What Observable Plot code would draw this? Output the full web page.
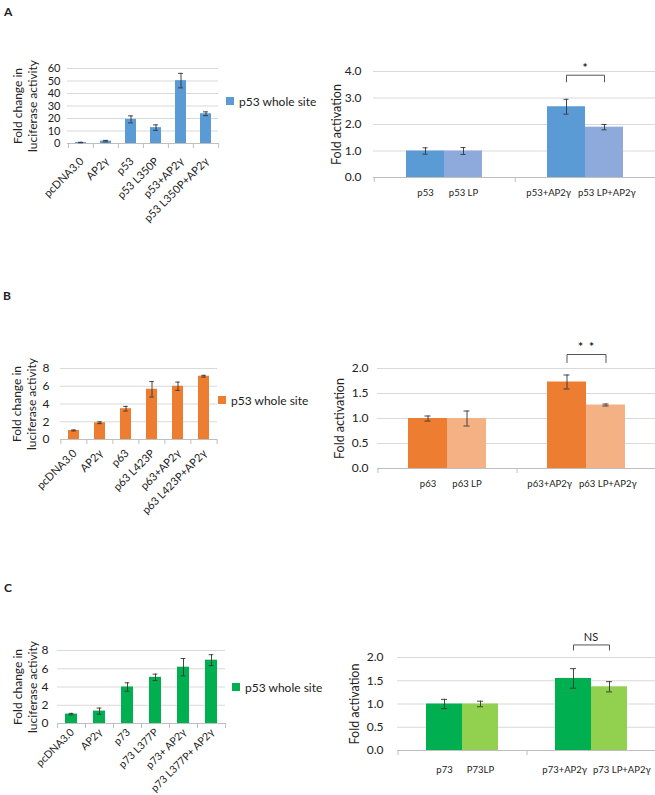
<!DOCTYPE html>
<html><head><meta charset="utf-8">
<script src="https://cdn.jsdelivr.net/npm/d3@7"></script>
<script src="https://cdn.jsdelivr.net/npm/@observablehq/plot@0.6"></script>
<style>
body{margin:0;background:#fff;font-family:Lato,"Open Sans",sans-serif;}
#fig{position:relative;width:655px;height:795px;overflow:hidden;background:#fff;color:#222;}
.panel{position:absolute;}
.letter{position:absolute;font-weight:bold;font-size:12px;line-height:12px;}
.legend{position:absolute;font-size:12px;height:16px;display:flex;align-items:center;white-space:nowrap;}
.legend .sw{display:inline-block;width:8px;height:8px;margin-right:5px;}
</style></head>
<body><div id="fig"></div>
<script>
// ---------- data ----------
const legendLabel = "p53 whole site";
const leftTitle = "Fold change in\nluciferase activity";
const rightTitle = "Fold activation";

// Panel A
const catsA = ["pcDNA3.0","AP2γ","p53","p53 L350P","p53+AP2γ","p53 L350P+AP2γ"];
const valsA = [0.8, 1.9, 19.3, 12.7, 50.3, 23.8];
const errsA = [0.2, 0.6, 2.8, 2.2, 5.8, 1.5];
const ticksA = [0,10,20,30,40,50,60];
const groupsA = ["p53","p53+AP2γ"];
const barLabelsA = ["p53","p53 LP","p53+AP2γ","p53 LP+AP2γ"];
const foldA = [1.0, 1.0, 2.67, 1.9];
const foldErrA = [0.12, 0.13, 0.28, 0.1];
const foldTicksA = [0,1,2,3,4];
const sigA = {label:"*", top:3.86, bottom:3.61, textY:4.12};

// Panel B
const catsB = ["pcDNA3.0","AP2γ","p63","p63 L423P","p63+AP2γ","p63 L423P+AP2γ"];
const valsB = [1.02, 1.89, 3.47, 5.66, 6.0, 7.13];
const errsB = [0.06, 0.1, 0.26, 0.87, 0.47, 0.1];
const ticksB = [0,2,4,6,8];
const groupsB = ["p63","p63+AP2γ"];
const barLabelsB = ["p63","p63 LP","p63+AP2γ","p63 LP+AP2γ"];
const foldB = [1.0, 1.0, 1.73, 1.27];
const foldErrB = [0.05, 0.15, 0.14, 0.02];
const foldTicksB = [0,0.5,1,1.5,2];
const sigB = {label:"*  *", top:2.28, bottom:2.12, textY:2.42};

// Panel C
const catsC = ["pcDNA3.0","AP2γ","p73","p73 L377P","p73+ AP2γ","p73 L377P+ AP2γ"];
const valsC = [1.03, 1.36, 4.0, 5.06, 6.17, 6.94];
const errsC = [0.08, 0.33, 0.46, 0.35, 0.95, 0.6];
const ticksC = [0,2,4,6,8];
const groupsC = ["p73","p73+AP2γ"];
const barLabelsC = ["p73","P73LP","p73+AP2γ","p73 LP+AP2γ"];
const foldC = [1.0, 1.0, 1.55, 1.37];
const foldErrC = [0.1, 0.06, 0.21, 0.11];
const foldTicksC = [0,0.5,1,1.5,2];
const sigC = {label:"NS", top:2.27, bottom:2.16, textY:2.43};

// ---------- helpers ----------
const fig = document.getElementById("fig");
function place(node, left, top){
  const d = document.createElement("div");
  d.className = "panel"; d.style.left = left+"px"; d.style.top = top+"px";
  d.appendChild(node); fig.appendChild(d);
}
function letter(t, left, top){
  const d = document.createElement("div"); d.className="letter";
  d.style.left=left+"px"; d.style.top=top+"px"; d.textContent=t; fig.appendChild(d);
}
function legend(color, left, cy){
  const d = document.createElement("div"); d.className="legend";
  d.style.left=left+"px"; d.style.top=(cy-8)+"px";
  d.innerHTML = `<span class="sw" style="background:${color}"></span><span></span>`;
  d.lastChild.textContent = legendLabel; fig.appendChild(d);
}
const baseStyle = (fs) => ({background:"none", overflow:"visible", fontFamily:"Lato, 'Open Sans', sans-serif", fontSize:fs+"px", color:"#222"});

function leftChart(o){
  const data = o.cats.map((c,i)=>({c, v:o.vals[i], e:o.errs[i]}));
  const W = o.width - o.mLeft - o.mRight;
  const step = W / o.cats.length;
  const pad = 0.56;
  const bw = step*(1-pad);
  const capInset = Math.max(0,(bw-5)/2);
  return Plot.plot({
    width:o.width, height:o.height,
    marginTop:o.mTop, marginBottom:o.mBottom, marginLeft:o.mLeft, marginRight:o.mRight,
    style: baseStyle(o.axisFont),
    x:{domain:o.cats, paddingInner:pad, paddingOuter:pad/2, axis:null},
    y:{domain:[0, o.ticks[o.ticks.length-1]], ticks:o.ticks, label:null, tickSize:0, tickPadding:o.tickPad},
    marks:[
      Plot.ruleY(o.ticks.slice(1), {stroke:"#d9d9d9"}),
      Plot.barY(data, {x:"c", y:"v", fill:o.color}),
      Plot.ruleY([0], {stroke:"#bfbfbf"}),
      Plot.ruleX(o.cats, {x:d=>d, dx:-step/2, y1:0, y2:0, insetBottom:-5, stroke:"#bfbfbf"}),
      Plot.ruleX([o.cats[o.cats.length-1]], {x:d=>d, dx:step/2, y1:0, y2:0, insetBottom:-5, stroke:"#bfbfbf"}),
      Plot.ruleX(data, {x:"c", y1:d=>d.v-d.e, y2:d=>d.v+d.e, stroke:"#333", strokeWidth:0.9}),
      Plot.tickY(data, {x:"c", y:d=>d.v-d.e, stroke:"#333", strokeWidth:0.9, insetLeft:capInset, insetRight:capInset}),
      Plot.tickY(data, {x:"c", y:d=>d.v+d.e, stroke:"#333", strokeWidth:0.9, insetLeft:capInset, insetRight:capInset}),
      Plot.text(o.cats, {x:d=>d, text:d=>d, frameAnchor:"bottom", dy:o.labelDy, dx:1, rotate:-45, textAnchor:"end", lineAnchor:"middle", fontSize:o.labelSize, fill:"#222"}),
      Plot.text([leftTitle], {text:d=>d, frameAnchor:"left", dx:o.titleX - o.mLeft, rotate:-90, textAnchor:"middle", lineAnchor:"middle", fontSize:12, lineHeight:1.22, fill:"#222"})
    ]
  });
}

function rightChart(o){
  const keys = ["a","b"];
  const data = [];
  o.groups.forEach((g,gi)=>keys.forEach((k,ki)=>{
    const i = gi*2+ki;
    data.push({g, k, label:o.labels[i], v:o.vals[i], e:o.errs[i]});
  }));
  const fw = (o.width - o.mLeft - o.mRight)/2;
  const po = (fw/o.barW - 2)/2;
  const capInset = (o.barW-6)/2;
  const g1 = o.groups[0], g2 = o.groups[1];
  const bracket = [
    {g:g2, k:"a", y:o.sig.bottom},{g:g2, k:"a", y:o.sig.top},
    {g:g2, k:"b", y:o.sig.top},{g:g2, k:"b", y:o.sig.bottom}
  ];
  const lab = {frameAnchor:"bottom", dy:o.labelDy, lineAnchor:"middle", fontSize:9.5, fill:"#222", text:"label", fx:"g"};
  return Plot.plot({
    width:o.width, height:o.height,
    marginTop:o.mTop, marginBottom:o.mBottom, marginLeft:o.mLeft, marginRight:o.mRight,
    style: baseStyle(12),
    fx:{domain:o.groups, paddingInner:0, paddingOuter:0, axis:null, label:null},
    x:{domain:keys, paddingInner:0, paddingOuter:po, axis:null},
    y:{domain:[0, o.ticks[o.ticks.length-1]], ticks:o.ticks, tickFormat:".1f", label:null, tickSize:0, tickPadding:o.tickPad},
    color:{domain:keys, range:o.colors},
    marks:[
      Plot.ruleY(o.ticks.slice(1), {stroke:"#d9d9d9"}),
      Plot.barY(data, {fx:"g", x:"k", y:"v", fill:"k"}),
      Plot.ruleY([0], {stroke:"#bfbfbf"}),
      Plot.ruleX(o.groups.map(g=>({g})), {fx:"g", x:()=>"a", dx:-(0.5+po)*o.barW, y1:0, y2:0, insetBottom:-5, stroke:"#bfbfbf"}),
      Plot.ruleX(data, {fx:"g", x:"k", y1:d=>d.v-d.e, y2:d=>d.v+d.e, stroke:"#333", strokeWidth:0.9}),
      Plot.tickY(data, {fx:"g", x:"k", y:d=>d.v-d.e, stroke:"#333", strokeWidth:0.9, insetLeft:capInset, insetRight:capInset}),
      Plot.tickY(data, {fx:"g", x:"k", y:d=>d.v+d.e, stroke:"#333", strokeWidth:0.9, insetLeft:capInset, insetRight:capInset}),
      Plot.text(data.filter(d=>d.g===g1), {...lab, x:"k"}),
      Plot.text(data.filter(d=>d.g===g2 && d.k==="a"), {...lab, textAnchor:"end", dx:-o.gapA}),
      Plot.text(data.filter(d=>d.g===g2 && d.k==="b"), {...lab, textAnchor:"start", dx:o.gapB}),
      Plot.line(bracket, {fx:"g", x:"k", y:"y", stroke:"#555", strokeWidth:1}),
      Plot.text([{g:g2, t:o.sig.label, y:o.sig.textY}], {fx:"g", y:"y", text:"t", fontSize:o.sig.label==="NS"?11:12, fontWeight:o.sig.label==="NS"?"normal":"bold", fill:"#222"}),
      Plot.text([{g:g1, t:rightTitle}], {fx:"g", text:"t", frameAnchor:"left", dx:o.titleX - o.mLeft, rotate:-90, textAnchor:"middle", lineAnchor:"middle", fontSize:12.5, fill:"#222"})
    ]
  });
}

// ---------- panels ----------
letter("A", 4, 6);
letter("B", 3, 290);
letter("C", 4, 582);

place(leftChart({cats:catsA, vals:valsA, errs:errsA, ticks:ticksA, color:"#5B9BD5", axisFont:11,
  width:225, height:240, mTop:68, mBottom:97, mLeft:67, mRight:7, tickPad:7, titleX:24, labelDy:16, labelSize:11}), 0, 0);
legend("#5B9BD5", 226, 101);
place(rightChart({groups:groupsA, labels:barLabelsA, vals:foldA, errs:foldErrA, ticks:foldTicksA,
  colors:["#5B9BD5","#8EA9DB"], sig:sigA, barW:39, gapA:14, gapB:-7,
  width:355, height:170, mTop:41, mBottom:23, mLeft:72, mRight:0, tickPad:12, titleX:35, labelDy:15}), 300, 30);

place(leftChart({cats:catsB, vals:valsB, errs:errsB, ticks:ticksB, color:"#ED7D31", axisFont:12,
  width:222, height:260, mTop:108, mBottom:81, mLeft:60, mRight:5, tickPad:11, titleX:23.5, labelDy:12, labelSize:11}), 0, 260);
legend("#ED7D31", 218, 400);
place(rightChart({groups:groupsB, labels:barLabelsB, vals:foldB, errs:foldErrB, ticks:foldTicksB,
  colors:["#ED7D31","#F4B183"], sig:sigB, barW:39, gapA:14, gapB:-7,
  width:355, height:160, mTop:38, mBottom:22, mLeft:77, mRight:0, tickPad:9, titleX:39, labelDy:15}), 300, 330);

place(leftChart({cats:catsC, vals:valsC, errs:errsC, ticks:ticksC, color:"#00B050", axisFont:12,
  width:230, height:255, mTop:110, mBottom:72, mLeft:57, mRight:5, tickPad:9, titleX:24.5, labelDy:7, labelSize:10.5}), 0, 540);
legend("#00B050", 232, 687);
place(rightChart({groups:groupsC, labels:barLabelsC, vals:foldC, errs:foldErrC, ticks:foldTicksC,
  colors:["#00B050","#92D050"], sig:sigC, barW:36, gapA:4, gapB:2,
  width:355, height:170, mTop:37, mBottom:40, mLeft:97, mRight:0, tickPad:14, titleX:54, labelDy:19}), 300, 620);
</script>
</body></html>
